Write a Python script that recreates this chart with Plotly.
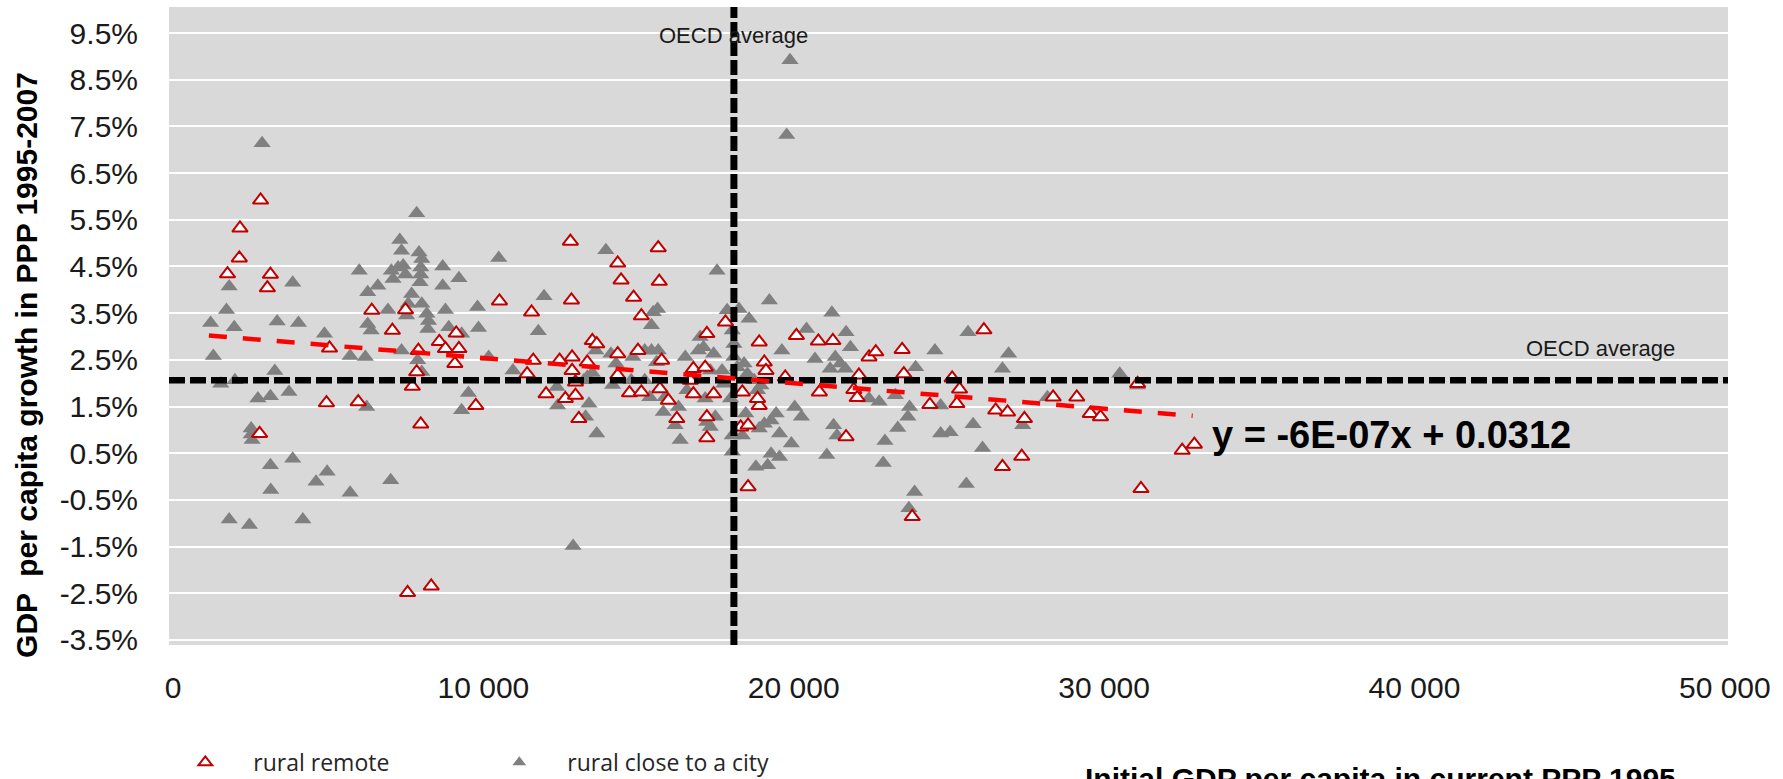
import plotly.graph_objects as go

# ---------------- data ----------------
# x: initial GDP per capita (current PPP, 1995); y: GDP per capita growth 1995-2007 in %
REMOTE_X = [2822, 2158, 2137, 1756, 3138, 3040, 12804, 14328, 14437, 15634,
            15667, 14840, 12837, 10518, 15090, 11552, 5043, 6404, 7068, 7492,
            8581, 8777, 9125, 9212, 9081, 7906, 7851, 7710, 11607, 11411,
            4945, 5968, 7982, 9756, 2790, 7558, 8320, 12456, 12859, 13348,
            12859, 13511, 13653, 14328, 14328, 14709, 14981, 15743, 15090, 15688,
            15961, 16233, 16669, 12020, 12641, 12968, 12968, 13076, 17800, 18888,
            19051, 19106, 20086, 20793, 21261, 19727, 20826, 18344, 18888, 18834,
            18529, 18290, 17201, 17201, 17419, 16766, 16766, 17147, 17201, 21686,
            22099, 21936, 22045, 22426, 22644, 23493, 23547, 24385, 25104, 25343,
            25256, 23819, 26127, 26508, 26889, 26725, 27346, 27433, 28358, 29120,
            29556, 29883, 31080, 31188, 32516, 32908, 18529]
REMOTE_Y = [5.92, 5.32, 4.68, 4.34, 4.33, 4.04, 5.04, 4.57, 4.21, 4.90,
            4.18, 3.84, 3.78, 3.76, 3.44, 3.52, 2.75, 3.56, 3.13, 3.57,
            2.89, 2.74, 3.07, 2.74, 2.42, 2.70, 2.24, 1.93, 2.49, 2.20,
            1.58, 1.60, 1.12, 1.52, 0.92, -2.49, -2.35, 2.49, 2.56, 2.45,
            2.27, 2.91, 2.84, 2.63, 2.17, 1.79, 2.70, 2.49, 1.81, 1.88,
            1.63, 1.24, 2.06, 1.77, 1.67, 1.74, 2.02, 1.24, 3.31, 2.88,
            2.45, 2.27, 3.02, 2.90, 2.91, 2.13, 1.81, 1.81, 1.52, 1.67,
            -0.22, 1.06, 0.83, 1.28, 1.77, 1.77, 2.31, 2.34, 3.06, 0.85,
            2.17, 1.86, 1.69, 2.56, 2.67, 2.72, 2.20, 1.54, 2.11, 1.87,
            1.56, -0.86, 3.14, 1.42, 1.38, 0.21, 0.43, 1.24, 1.70, 1.70,
            1.35, 1.28, 1.99, -0.26, 0.56, 0.69, 1.10]

CLOSE_X = [2870, 7851, 7307, 7362, 7927, 8015, 7253, 7416, 7035, 7089,
           7492, 7982, 7982, 7960, 8690, 8690, 9212, 6001, 6273, 6600,
           10496, 13947, 1810, 3857, 11955, 15471, 15612, 15416, 11770, 9811,
           9843, 1211, 1723, 1973, 1299, 3356, 4042, 4880, 5707, 6197,
           6273, 6382, 6926, 7525, 7688, 7579, 8015, 8178, 8232, 8211,
           8777, 8885, 9299, 7362, 7884, 8015, 10170, 10954, 3280, 1538,
           1995, 2735, 3138, 3737, 6240, 9517, 9299, 2518, 2550, 2518,
           3138, 3857, 4967, 4608, 3149, 5707, 7014, 1810, 2463, 4183,
           12891, 13348, 13511, 13239, 13620, 14110, 14273, 14165, 14763, 14818,
           15199, 15416, 15634, 15580, 15199, 15362, 15852, 15797, 16287, 16178,
           16341, 16505, 16559, 12369, 12391, 13402, 13294, 13653, 17528, 19215,
           17854, 18235, 18562, 21229, 20412, 21686, 21827, 21338, 21501, 21174,
           21664, 20684, 19618, 18943, 18453, 19433, 19270, 19052, 18888, 19542,
           19923, 19270, 19542, 19160, 18780, 18018, 18018, 18344, 17473, 17147,
           17201, 16984, 17092, 17419, 16929, 18072, 18181, 18507, 18725, 18834,
           17691, 17745, 17963, 18018, 18072, 17310, 18399, 20031, 20248, 21283,
           21392, 21065, 22426, 22752, 23275, 23928, 24549, 24733, 23732, 23678,
           23352, 22938, 22883, 23895, 23710, 24733, 25038, 25779, 26084, 25561,
           25615, 26922, 26725, 27379, 28173, 30503, 31080, 19880, 19773, 17310]
CLOSE_Y = [7.14, 5.64, 5.07, 4.84, 4.80, 4.66, 4.48, 4.52, 4.41, 4.23,
           4.33, 4.48, 4.33, 4.16, 4.50, 4.09, 4.25, 4.41, 3.95, 4.09,
           4.68, 4.85, 4.07, 4.15, 3.86, 3.52, 3.59, 3.24, 3.11, 3.63,
           3.18, 3.29, 3.57, 3.20, 2.58, 3.32, 3.29, 3.06, 2.58, 2.56,
           3.27, 3.13, 3.57, 3.45, 3.91, 3.70, 3.70, 3.49, 3.33, 3.16,
           3.57, 3.20, 3.06, 2.70, 2.49, 2.24, 2.56, 2.27, 2.26, 1.99,
           2.06, 1.67, 1.72, 1.81, 1.49, 1.79, 1.42, 1.03, 0.78, 0.90,
           0.24, 0.38, 0.10, -0.11, -0.29, -0.35, -0.08, -0.92, -1.04, -0.92,
           -1.49, 2.13, 2.22, 2.06, 2.70, 2.63, 2.42, 1.96, 2.06, 2.56,
           2.70, 2.70, 2.70, 2.45, 2.06, 1.70, 1.70, 1.38, 1.49, 1.10,
           0.78, 2.56, 1.85, 1.92, 1.52, 1.56, 1.28, 0.92, 4.41, 3.77,
           3.56, 3.59, 3.38, 3.51, 3.16, 3.09, 2.77, 2.56, 2.42, 2.31,
           2.31, 2.52, 2.70, 1.95, 1.35, 1.35, 1.20, 1.13, 1.03, 0.92,
           0.71, 0.49, 0.42, 0.24, 0.21, 0.53, 0.88, 0.88, 1.28, 1.67,
           1.17, 2.99, 2.77, 2.63, 2.70, 2.56, 2.34, 2.20, 2.06, 1.85,
           2.27, 1.99, 1.67, 3.13, 2.84, 2.27, 2.42, 1.49, 1.28, 1.10,
           0.88, 0.46, 1.67, 1.60, 1.74, 2.34, 2.70, 1.52, 1.49, 1.28,
           1.04, 0.76, 0.29, -0.33, -0.68, 0.92, 0.95, 1.12, 0.61, -0.16,
           3.09, 2.63, 2.31, 1.10, 1.70, 2.20, 1.95, 8.92, 7.32, 1.06]

TREND_X = [1157, 32854]
TREND_Y = [3.02, 1.30]
TREND_LABEL = "y = -6E-07x + 0.0312"

OECD_AVG_GDP = 18072      # vertical reference line
OECD_AVG_GROWTH = 2.06    # horizontal reference line (%)

Y_TICKS = [-3.5, -2.5, -1.5, -0.5, 0.5, 1.5, 2.5, 3.5, 4.5, 5.5, 6.5, 7.5, 8.5, 9.5]
Y_TICK_LABELS = ["-3.5%", "-2.5%", "-1.5%", "-0.5%", "0.5%", "1.5%", "2.5%",
                 "3.5%", "4.5%", "5.5%", "6.5%", "7.5%", "8.5%", "9.5%"]
X_TICKS = [0, 10000, 20000, 30000, 40000, 50000]
X_TICK_LABELS = ["0", "10 000", "20 000", "30 000", "40 000", "50 000"]
X_RANGE = [-129, 50102]
Y_RANGE = [-3.61, 10.06]

# ---------------- figure ----------------
fig = go.Figure()

fig.add_trace(go.Scatter(
    x=CLOSE_X, y=CLOSE_Y, mode="markers", name="rural close to a city",
    marker=dict(symbol="triangle-up", size=15, color="#808080",
                line=dict(width=0)),
))
fig.add_trace(go.Scatter(
    x=REMOTE_X, y=REMOTE_Y, mode="markers", name="rural remote",
    marker=dict(symbol="triangle-up", size=13.5, color="white",
                line=dict(color="#C00000", width=2)),
))

# OECD reference lines
fig.add_trace(go.Scatter(
    x=[X_RANGE[0], X_RANGE[1]], y=[OECD_AVG_GROWTH, OECD_AVG_GROWTH],
    mode="lines", showlegend=False, hoverinfo="skip",
    line=dict(color="black", width=6.5, dash="16px,5px"),
))
fig.add_trace(go.Scatter(
    x=[OECD_AVG_GDP, OECD_AVG_GDP], y=[Y_RANGE[0], Y_RANGE[1]],
    mode="lines", showlegend=False, hoverinfo="skip",
    line=dict(color="black", width=7, dash="15px,4px"),
))
# linear trend of rural remote regions
fig.add_trace(go.Scatter(
    x=TREND_X, y=TREND_Y, mode="lines", showlegend=False, hoverinfo="skip",
    line=dict(color="#FF0000", width=4.5, dash="18px,16px"),
))

fig.add_annotation(x=OECD_AVG_GDP, y=9.46, xref="x", yref="y", text="OECD average",
                   showarrow=False, font=dict(family="Liberation Sans", size=22, color="#1a1a1a"),
                   xanchor="center", yanchor="middle")
fig.add_annotation(x=45978, y=2.75, xref="x", yref="y", text="OECD average",
                   showarrow=False, font=dict(family="Liberation Sans", size=22, color="#1a1a1a"),
                   xanchor="center", yanchor="middle")
fig.add_annotation(x=33412, y=0.89, xref="x", yref="y", text="<b>" + TREND_LABEL + "</b>",
                   showarrow=False, font=dict(family="Liberation Sans", size=38, color="black"),
                   xanchor="left", yanchor="middle")
# axis titles
fig.add_annotation(x=-0.0911, y=0.439, xref="paper", yref="paper",
                   text="<b>GDP  per capita growth in PPP 1995-2007</b>", textangle=-90,
                   showarrow=False, font=dict(family="Liberation Sans", size=30, color="black"),
                   xanchor="center", yanchor="middle")
fig.add_annotation(x=0.777, y=-0.180, xref="paper", yref="paper",
                   text="<b>Initial GDP per capita in current PPP 1995</b>",
                   showarrow=False, font=dict(family="Liberation Sans", size=30, color="black"),
                   xanchor="center", yanchor="top")

fig.update_layout(
    width=1783, height=779,
    margin=dict(l=169, r=55, t=7, b=134, autoexpand=False),
    paper_bgcolor="white", plot_bgcolor="#D9D9D9",
    showlegend=True,
    legend=dict(orientation="h", x=-0.0075, y=-0.184, xanchor="left", yanchor="middle",
                font=dict(family="Open Sans", size=23, color="#262626"),
                itemwidth=86, entrywidth=213, itemsizing="constant",
                bgcolor="rgba(0,0,0,0)", traceorder="reversed"),
    xaxis=dict(range=X_RANGE, tickvals=X_TICKS, ticktext=X_TICK_LABELS,
               showgrid=False, zeroline=False, showline=False, ticks="",
               tickfont=dict(family="Liberation Sans", size=30, color="#1a1a1a"),
               ticklabelstandoff=22),
    yaxis=dict(range=Y_RANGE, tickvals=Y_TICKS, ticktext=Y_TICK_LABELS,
               showgrid=True, gridcolor="white", gridwidth=2, zeroline=False,
               showline=False, ticks="",
               tickfont=dict(family="Liberation Sans", size=30, color="#1a1a1a"),
               ticklabelstandoff=30),
)

fig.write_html("out.html", config={"displayModeBar": False},
               post_script="document.body.style.margin='0';document.body.style.overflow='hidden';")
